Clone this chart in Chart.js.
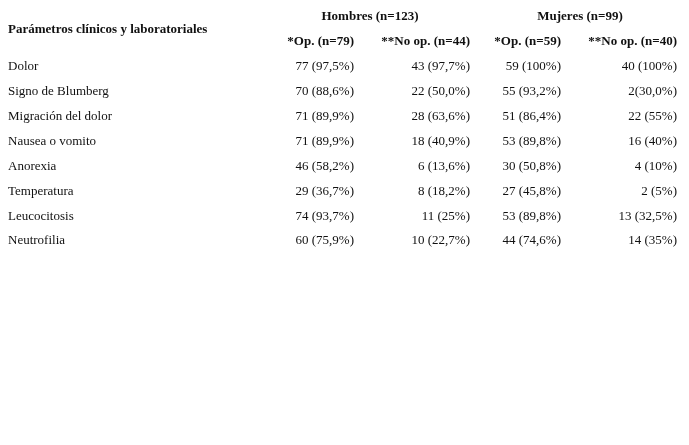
<!DOCTYPE html>
<html><head><meta charset="utf-8">
<script src="https://cdn.jsdelivr.net/npm/chart.js@4"></script>
<style>html,body{margin:0;background:#fff}#w{width:689px;height:445px}</style>
</head><body><div id="w"><canvas id="c"></canvas></div>
<script>
const title = "Parámetros clínicos y laboratoriales";
const groups = ["Hombres (n=123)", "Mujeres (n=99)"];
const subHeaders = ["*Op. (n=79)", "**No op. (n=44)", "*Op. (n=59)", "**No op. (n=40)"];
const rows = ["Dolor","Signo de Blumberg","Migración del dolor","Nausea o vomito","Anorexia","Temperatura","Leucocitosis","Neutrofilia"];
const menOp = ["77 (97,5%)","70 (88,6%)","71 (89,9%)","71 (89,9%)","46 (58,2%)","29 (36,7%)","74 (93,7%)","60 (75,9%)"];
const menNoOp = ["43 (97,7%)","22 (50,0%)","28 (63,6%)","18 (40,9%)","6 (13,6%)","8 (18,2%)","11 (25%)","10 (22,7%)"];
const womenOp = ["59 (100%)","55 (93,2%)","51 (86,4%)","53 (89,8%)","30 (50,8%)","27 (45,8%)","53 (89,8%)","44 (74,6%)"];
const womenNoOp = ["40 (100%)","2(30,0%)","22 (55%)","16 (40%)","4 (10%)","2 (5%)","13 (32,5%)","14 (35%)"];
const cols = [menOp, menNoOp, womenOp, womenNoOp];

const yLabels = ["h1","h2"].concat(rows);
const colRight = [354, 470, 561, 677];
const groupCenter = [370, 580];
const F = '"Liberation Serif", serif';

const tablePlugin = {
  id:'table',
  afterDatasetsDraw(chart){
    const ctx = chart.ctx, y = chart.scales.y;
    ctx.save();
    ctx.fillStyle = '#111';
    ctx.textBaseline = 'middle';
    ctx.font = 'bold 13px ' + F;
    ctx.textAlign = 'center';
    groups.forEach((g,i)=>ctx.fillText(g, groupCenter[i], y.getPixelForValue(0)));
    ctx.textAlign = 'left';
    ctx.fillText(title, 8, (y.getPixelForValue(0)+y.getPixelForValue(1))/2);
    ctx.textAlign = 'right';
    subHeaders.forEach((s,i)=>ctx.fillText(s, colRight[i], y.getPixelForValue(1)));
    ctx.font = '13px ' + F;
    rows.forEach((r,ri)=>{
      const py = y.getPixelForValue(ri+2);
      ctx.textAlign = 'left';
      ctx.fillText(r, 8, py);
      ctx.textAlign = 'right';
      cols.forEach((c,ci)=>ctx.fillText(c[ri], colRight[ci], py));
    });
    ctx.restore();
  }
};

new Chart(document.getElementById('c'), {
  type:'scatter',
  data:{ datasets:[{ data: rows.map((r,i)=>({x:0, y:r})), pointRadius:0 }] },
  options:{
    responsive:true, maintainAspectRatio:false, animation:false,
    layout:{ padding:{ top:4.5, bottom:191.5, left:0, right:0 } },
    plugins:{ legend:{display:false}, tooltip:{enabled:false} },
    scales:{
      x:{ type:'linear', min:0, max:689, display:false },
      y:{ type:'category', labels:yLabels, offset:true, display:false }
    }
  },
  plugins:[tablePlugin]
});
</script></body></html>
